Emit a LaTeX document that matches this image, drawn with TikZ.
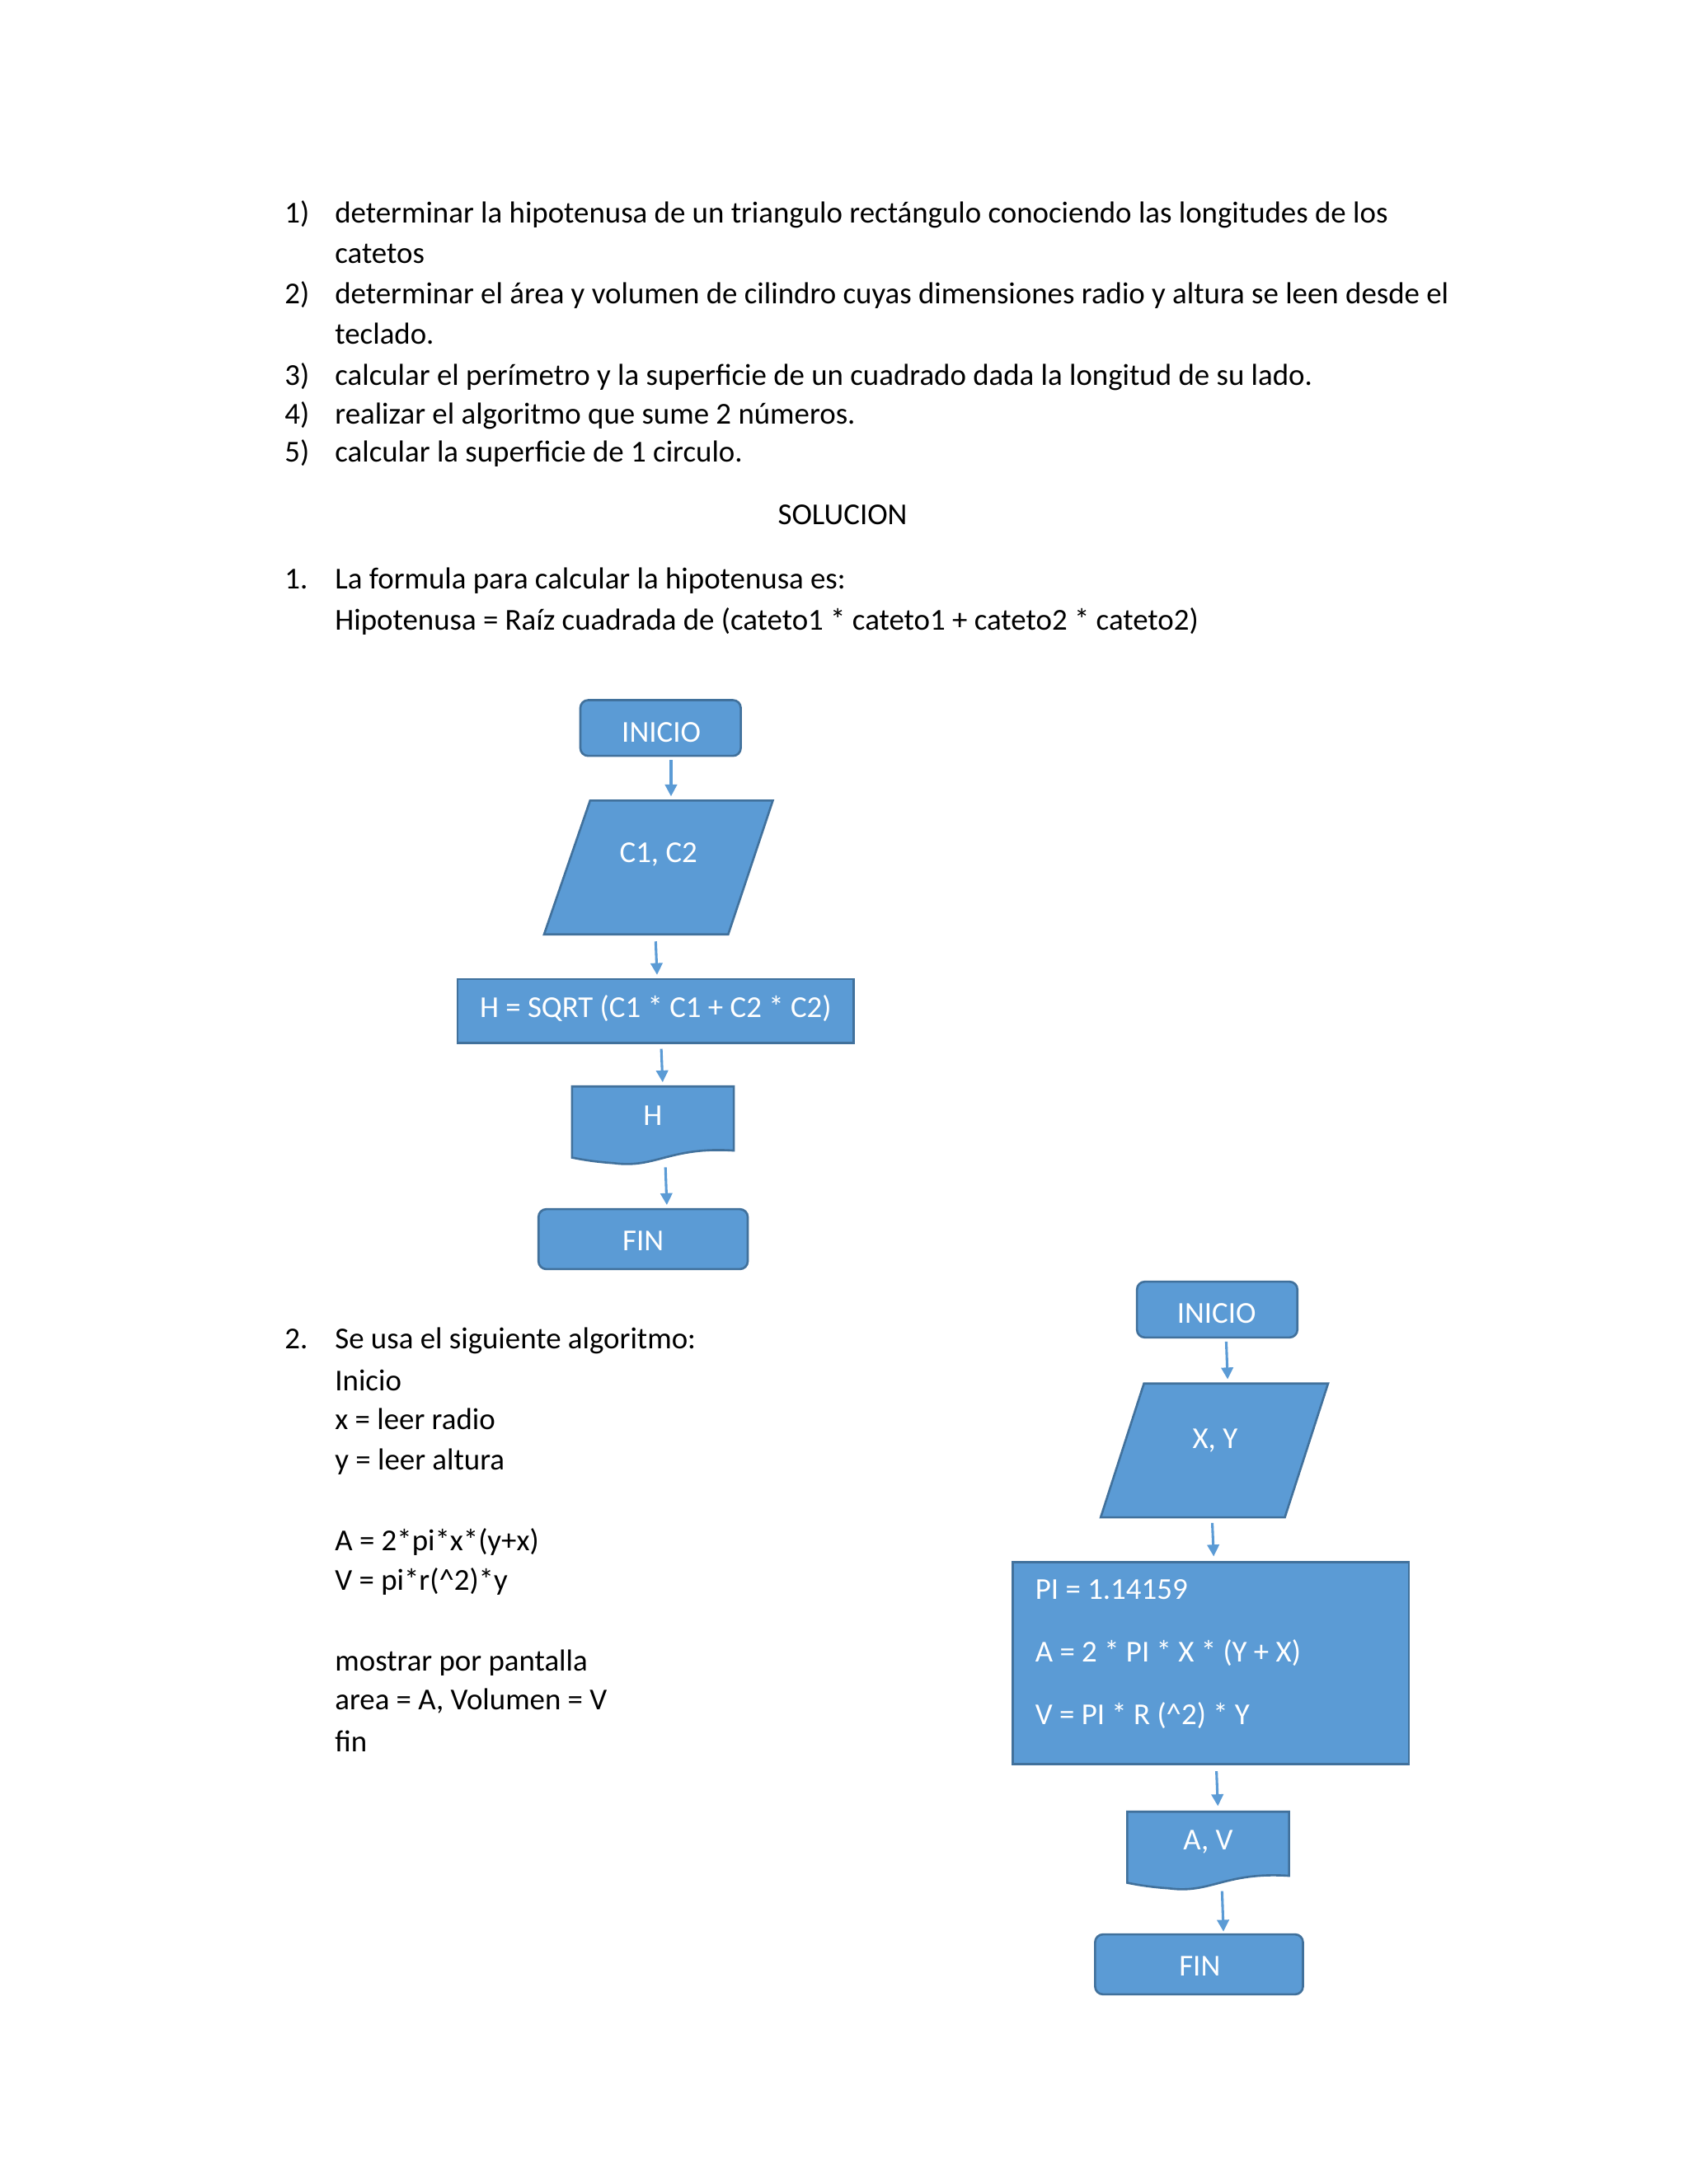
\documentclass[tikz,border=0pt]{standalone}
\usepackage{fontspec}
\setmainfont{Carlito}
\usetikzlibrary{arrows.meta}
\definecolor{bfill}{HTML}{5B9BD5}
\definecolor{bline}{HTML}{41719C}
\begin{document}
\begin{tikzpicture}[x=0.05cm,y=-0.05cm,
  txt/.style={anchor=base west,inner sep=0,font=\fontsize{31}{37}\selectfont},
  wtxt/.style={text=white,font=\fontsize{31}{37}\selectfont,inner sep=0},
  shp/.style={fill=bfill,draw=bline,line width=2.2pt},
  arr/.style={draw=bfill,line width=2.6pt,-{Triangle[length=12pt,width=12pt]}}]
\useasboundingbox[fill=white] (0,0) rectangle (1211,1566);
% list
\foreach \n/\y/\t in {1)/160/{determinar la hipotenusa de un triangulo rectángulo conociendo las longitudes de los},
  2)/218/{determinar el área y volumen de cilindro cuyas dimensiones radio y altura se leen desde el},
  3)/276/{calcular el perímetro y la superficie de un cuadrado dada la longitud de su lado.},
  4)/304/{realizar el algoritmo que sume 2 números.},
  5)/331/{calcular la superficie de 1 circulo.}}{
  \node[txt] (n\n) at (204,\y) {\n};
  \node[txt] (t\n) at (240,\y) {\t};}
\node[txt] (c1) at (240,189) {catetos};
\node[txt] (c2) at (240,247) {teclado.};
\node[anchor=base,inner sep=0,font=\fontsize{31}{37}\selectfont] (sol) at (604,376) {SOLUCION};
\node[txt] (s1) at (204,422) {1.};
\node[txt] (f1) at (240,422) {La formula para calcular la hipotenusa es:};
\node[txt] (f2) at (240,452) {Hipotenusa = Raíz cuadrada de (cateto1 * cateto1 + cateto2 * cateto2)};
\node[txt] (s2) at (204,967) {2.};
\foreach \y/\t [count=\i] in {967/Se usa el siguiente algoritmo:,997/Inicio,1025/x = leer radio,1054/y = leer altura,
  1112/A = 2*pi*x*(y+x),1140/V = pi*r(\^{}2)*y,1198/mostrar por pantalla,1226/{area = A, Volumen = V},1256/fin}
  \node[txt] (a\i) at (240,\y) {\t};
% flowchart 1
\draw[shp,rounded corners=8pt] (416,502) rectangle (531,542);
\node[wtxt] (i1) at (474,525) {INICIO};
\draw[shp] (423,574) -- (554,574) -- (522,670) -- (390,670) -- cycle;
\node[wtxt] (p1) at (472,613) {C1, C2};
\draw[shp] (328,702) rectangle (612,748);
\node[wtxt] (r1) at (470,723) {H = SQRT (C1 * C1 + C2 * C2)};
\draw[shp] (410,779) -- (526,779) -- (526,825) .. controls (480,822) and (470,838) .. (440,834) .. controls (425,833) and (415,831) .. (410,830) -- cycle;
\node[wtxt] (d1) at (468,800) {H};
\draw[shp,rounded corners=8pt] (386,867) rectangle (536,910);
\node[wtxt] (e1) at (461,890) {FIN};
\coordinate (a1s) at (481,545); \coordinate (a1e) at (481,571);
\coordinate (a2s) at (470,675); \coordinate (a2e) at (471,699);
\coordinate (a3s) at (474,752); \coordinate (a3e) at (475,776);
\coordinate (a4s) at (477,837); \coordinate (a4e) at (478,864);
\foreach \k in {1,2,3,4} \draw[arr] (a\k s) -- (a\k e);
% flowchart 2
\draw[shp,rounded corners=8pt] (815,919) rectangle (930,959);
\node[wtxt] (i2) at (872,942) {INICIO};
\draw[shp] (820,992) -- (952,992) -- (921,1088) -- (789,1088) -- cycle;
\node[wtxt] (p2) at (871,1033) {X, Y};
\draw[shp] (726,1120) rectangle (1010,1265);
\node[wtxt,anchor=west] (r2a) at (742,1140) {PI = 1.14159};
\node[wtxt,anchor=west] (r2b) at (742,1185) {A = 2 * PI * X * (Y + X)};
\node[wtxt,anchor=west] (r2c) at (742,1230) {V = PI * R (\^{}2) * Y};
\draw[shp] (808,1299) -- (924,1299) -- (924,1345) .. controls (878,1342) and (868,1358) .. (838,1354) .. controls (823,1353) and (813,1351) .. (808,1350) -- cycle;
\node[wtxt] (d2) at (866,1321) {A, V};
\draw[shp,rounded corners=8pt] (785,1387) rectangle (934,1430);
\node[wtxt] (e2) at (860,1410) {FIN};
\coordinate (b1s) at (879,962); \coordinate (b1e) at (880,989);
\coordinate (b2s) at (869,1092); \coordinate (b2e) at (870,1116);
\coordinate (b3s) at (872,1270); \coordinate (b3e) at (873,1295);
\coordinate (b4s) at (876,1356); \coordinate (b4e) at (877,1385);
\foreach \k in {1,2,3,4} \draw[arr] (b\k s) -- (b\k e);
\end{tikzpicture}
\end{document}
